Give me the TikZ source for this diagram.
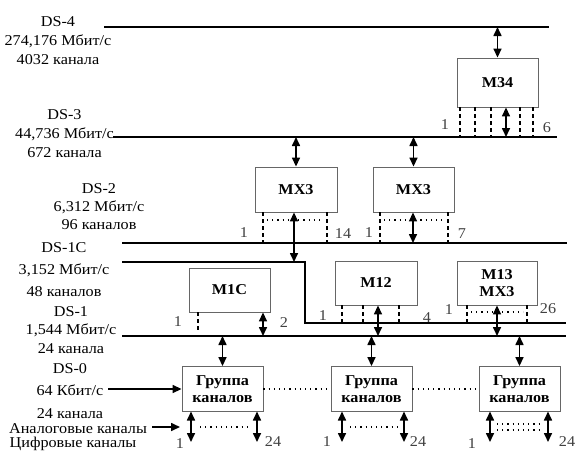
\documentclass[tikz,border=0pt]{standalone}
\usepackage{fontspec}
\setmainfont{Liberation Serif}[FakeStretch=1.08]
\usetikzlibrary{arrows.meta}
\begin{document}
\begin{tikzpicture}[x=1pt,y=-1pt,
 bus/.style={line width=1.5pt},
 box/.style={draw=black!60, line width=0.9pt, fill=white, minimum width=81pt, minimum height=45pt, inner sep=0pt, font=\fontsize{15}{17}\selectfont\bfseries, align=center},
 darr/.style={line width=1.6pt, {Triangle[length=9pt,width=8pt]}-{Triangle[length=9pt,width=8pt]}},
 sarr/.style={line width=1.6pt, -{Triangle[length=9pt,width=8pt]}},
 port/.style={line width=1.3pt, dash pattern=on 4pt off 3pt},
 dots/.style={line width=1.1pt, dash pattern=on 1.2pt off 4pt},
 lbl/.style={font=\fontsize{15}{19}\selectfont, align=center, inner sep=0pt},
 num/.style={font=\fontsize{15}{17}\selectfont, inner sep=0pt, text=black!75}
]
\useasboundingbox (0,0) rectangle (579,453);
% bus coordinates
\coordinate (ds4a) at (104,27); \coordinate (ds4b) at (549,27);
\coordinate (ds3a) at (113,137); \coordinate (ds3b) at (557,137);
\coordinate (ds2a) at (122,243); \coordinate (ds2b) at (567,243);
\coordinate (ds1ca) at (122,262); \coordinate (ds1cm) at (305,262);
\coordinate (ds1cn) at (305,323); \coordinate (ds1cb) at (566,323);
\coordinate (ds1a) at (122,336); \coordinate (ds1b) at (566,336);
\draw[bus] (ds4a) -- (ds4b);
\draw[bus] (ds3a) -- (ds3b);
\draw[bus] (ds2a) -- (ds2b);
\draw[bus] (ds1ca) -- (ds1cm) -- (ds1cn) -- (ds1cb);
\draw[bus] (ds1a) -- (ds1b);
% left labels
\node[lbl] (t4) at (58,41) {DS-4\\274,176 Мбит/с\\4032 канала};
\node[lbl] (t3) at (64.5,134) {DS-3\\44,736 Мбит/с\\672 канала};
\node[lbl,font=\fontsize{15}{18}\selectfont] (t2) at (99,207) {DS-2\\6,312 Мбит/с\\96 каналов};
\node[lbl,font=\fontsize{15}{22}\selectfont] (t1c) at (64,270) {DS-1C\\3,152 Мбит/с\\48 каналов};
\node[lbl,font=\fontsize{15}{18.5}\selectfont] (t1) at (71,330) {DS-1\\1,544 Мбит/с\\24 канала};
\node[lbl,font=\fontsize{15}{22.5}\selectfont] (t0) at (70,391) {DS-0\\64 Кбит/с\\24 канала};
\node[lbl] (tan) at (78,429) {Аналоговые каналы};
\node[lbl] (tdg) at (73,444) {Цифровые каналы};
% boxes
\node[box, minimum height=49pt] (m34) at (497.5,82.5) {M34};
\node[box, minimum width=82pt] (mx3a) at (296,189.5) {MX3};
\node[box] (mx3b) at (413.5,189.5) {MX3};
\node[box, minimum height=44pt] (m1c) at (229.5,290) {M1C};
\node[box, minimum width=82pt, minimum height=44pt] (m12) at (376,283) {M12};
\node[box, minimum width=80pt, minimum height=44pt] (m13) at (497,283) {M13\\MX3};
\node[box] (g1) at (222.5,389) {Группа\\каналов};
\node[box] (g2) at (371.5,389) {Группа\\каналов};
\node[box] (g3) at (519.5,389) {Группа\\каналов};
% M34
\draw[darr] (m34.north |- ds4a) -- (m34.north);
\foreach \x in {460,475,491,520,533} \draw[port] (\x,107) -- (\x,137);
\coordinate (m34p) at (506,137);
\draw[darr] (m34p |- m34.south) -- (m34p);
\node[num] (n34a) at (445,125) {1};
\node[num] (n34b) at (547,128) {6};
% MX3 left
\draw[darr] (mx3a.north |- ds3a) -- (mx3a.north);
\foreach \x in {263,327} \draw[port] (\x,212) -- (\x,243);
\draw[dots] (267,220) -- (323,220);
\coordinate (mx3ap) at (294,262);
\draw[darr] (mx3ap |- mx3a.south) -- (mx3ap);
\node[num] (nxa1) at (244,233) {1};
\node[num] (nxa2) at (343,234) {14};
% MX3 right
\draw[darr] (mx3b.north |- ds3a) -- (mx3b.north);
\foreach \x in {380,448} \draw[port] (\x,212) -- (\x,243);
\draw[dots] (384,220) -- (444,220);
\coordinate (mx3bp) at (413,243);
\draw[darr] (mx3bp |- mx3b.south) -- (mx3bp);
\node[num] (nxb1) at (369,233) {1};
\node[num] (nxb2) at (462,234) {7};
% M1C
\draw[port] (198,312) -- (198,330);
\coordinate (m1cp) at (263,336);
\draw[darr] (m1cp |- m1c.south) -- (m1cp);
\node[num] (nc1) at (178,322) {1};
\node[num] (nc2) at (284,323) {2};
% M12
\foreach \x in {342,363,399} \draw[port] (\x,305) -- (\x,323);
\coordinate (m12p) at (378,336);
\draw[darr] (m12p |- m12.south) -- (m12p);
\node[num] (n121) at (323,316) {1};
\node[num] (n122) at (427,318) {4};
% M13
\foreach \x in {467,527} \draw[port] (\x,305) -- (\x,323);
\draw[dots] (471,312) -- (523,312);
\coordinate (m13p) at (497,336);
\draw[darr] (m13p |- m13.south) -- (m13p);
\node[num] (n131) at (449,310) {1};
\node[num] (n132) at (548,309) {26};
% groups
\draw[darr] (g1.north |- ds1a) -- (g1.north);
\draw[darr] (g2.north |- ds1a) -- (g2.north);
\draw[darr] (g3.north |- ds1a) -- (g3.north);
\draw[dots] (g1.east) -- (g2.west);
\draw[dots] (g2.east) -- (g3.west);
\foreach \x in {191,257,342,404,490,548} \draw[darr] (\x,411.5) -- (\x,442);
\draw[dots] (200,427) -- (250,427);
\draw[dots] (350,427) -- (397,427);
\draw[dots] (497,424) -- (541,424);
\draw[dots] (497,430) -- (541,430);
\node[num] (ng11) at (180,444) {1};
\node[num] (ng12) at (273,442) {24};
\node[num] (ng21) at (327,442) {1};
\node[num] (ng22) at (418,442) {24};
\node[num] (ng31) at (472,444) {1};
\node[num] (ng32) at (567,442) {24};
% inputs
\coordinate (in0) at (108,389);
\draw[sarr] (in0) -- (g1.west);
\coordinate (ina) at (152,427);
\coordinate (inb) at (180,427);
\draw[sarr] (ina) -- (inb);
\end{tikzpicture}
\end{document}
